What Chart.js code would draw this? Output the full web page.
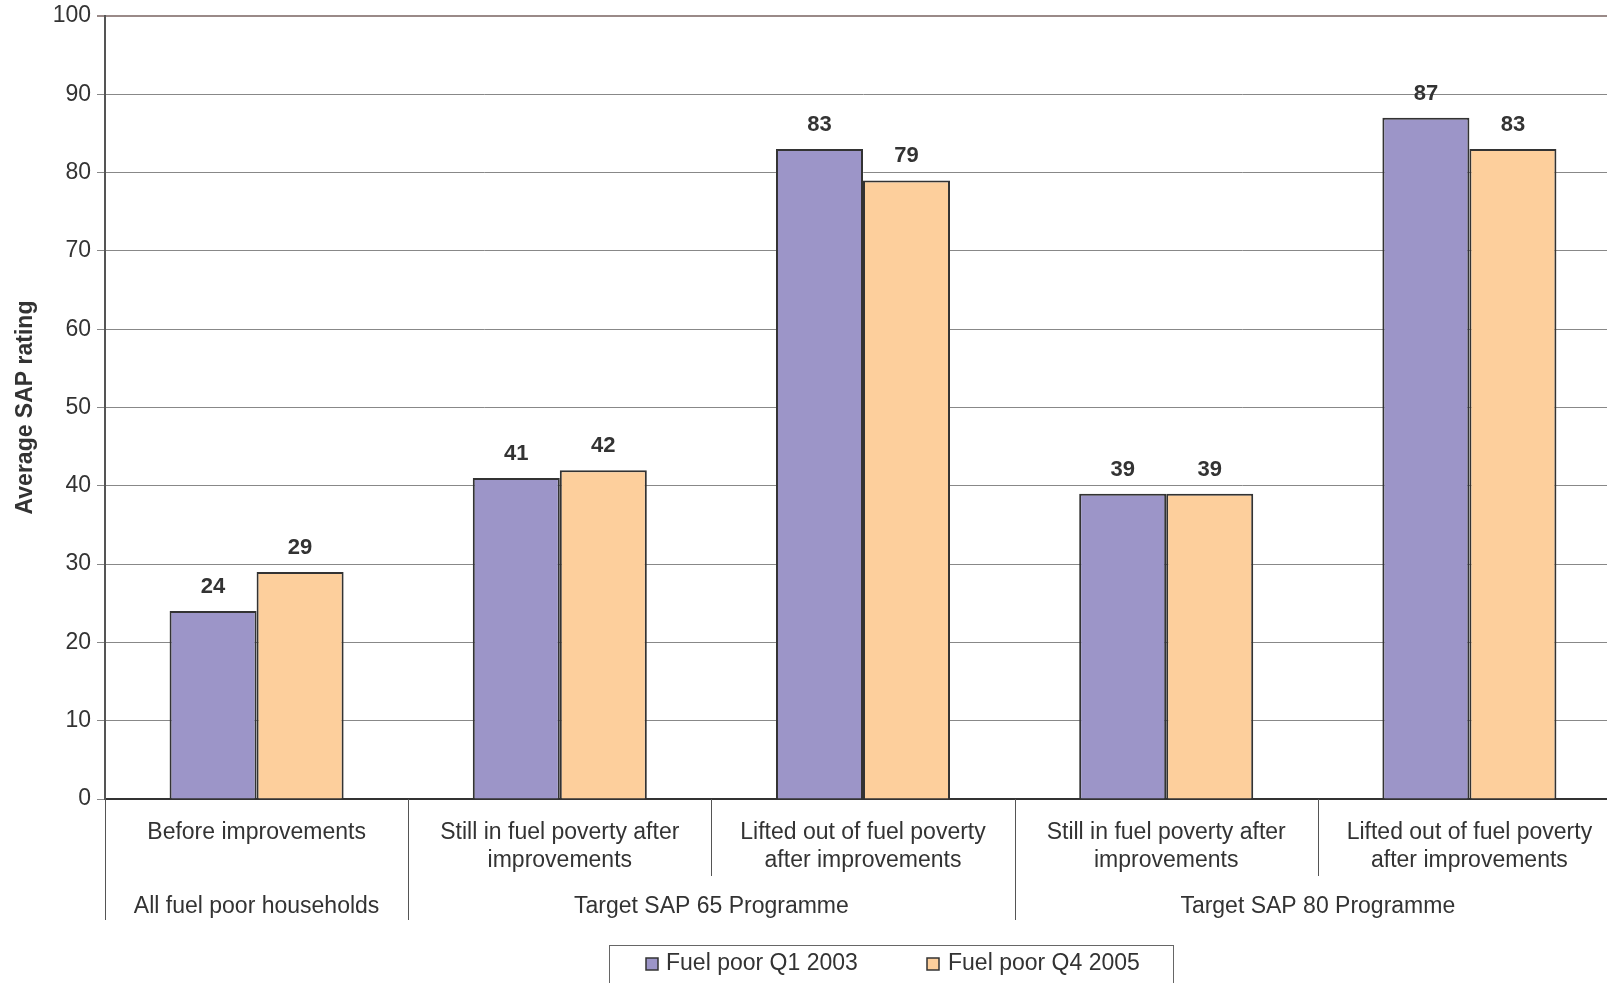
<!DOCTYPE html>
<html>
<head>
<meta charset="utf-8">
<script src="https://cdn.jsdelivr.net/npm/chart.js@4/dist/chart.umd.min.js"></script>
<style>
  html, body { margin: 0; padding: 0; background: #fff; overflow: hidden; }
  #wrap { position: absolute; left: 0; top: 0; width: 1621px; height: 983px; }
</style>
</head>
<body>
<div id="wrap"><canvas id="sapChart"></canvas></div>
<script>
// categories (lower level of the x axis) and their groups (upper level)
var categoryLabels = [
	['Before improvements'],
	['Still in fuel poverty after', 'improvements'],
	['Lifted out of fuel poverty', 'after improvements'],
	['Still in fuel poverty after', 'improvements'],
	['Lifted out of fuel poverty', 'after improvements']
];
var groupNames = ['All fuel poor households', 'Target SAP 65 Programme', 'Target SAP 80 Programme'];
var groupSpans = [1, 2, 2];

// series
var seriesNames = ['Fuel poor Q1 2003', 'Fuel poor Q4 2005'];
var q1_2003 = [24, 41, 83, 39, 87];
var q4_2005 = [29, 42, 79, 39, 83];

var yTicks = [0, 10, 20, 30, 40, 50, 60, 70, 80, 90, 100];

var purple = '#9c95c8';
var orange = '#fdcf9c';
var textCol = '#333333';
var fontFam = '"Liberation Sans", Arial, Helvetica, sans-serif';

// value labels above the bars
var valueLabels = {
	id: 'valueLabels',
	afterDatasetsDraw(chart) {
		var ctx = chart.ctx;
		ctx.save();
		ctx.font = 'bold 22px ' + fontFam;
		ctx.fillStyle = textCol;
		ctx.textAlign = 'center';
		ctx.textBaseline = 'middle';
		chart.data.datasets.forEach(function(ds, di) {
			var meta = chart.getDatasetMeta(di);
			meta.data.forEach(function(bar, i) {
				ctx.fillText(ds.data[i], bar.x, bar.y - 24);
			});
		});
		ctx.restore();
	}
};

// separators, group labels and boxed legend below the plot
var lowerAxis = {
	id: 'lowerAxis',
	afterDraw(chart) {
		var ctx = chart.ctx;
		var area = chart.chartArea;
		var n = categoryLabels.length;
		var w = (area.right - area.left) / n;
		ctx.save();
		ctx.strokeStyle = '#555';
		ctx.lineWidth = 1;
		// separators between categories
		var groupEdges = [0];
		var acc = 0;
		groupSpans.forEach(function(s) { acc += s; groupEdges.push(acc); });
		for (var i = 0; i <= n; i++) {
			var x = Math.round(area.left + i * w) + 0.5;
			var isGroup = groupEdges.indexOf(i) >= 0;
			ctx.beginPath();
			ctx.moveTo(x, area.bottom);
			ctx.lineTo(x, area.bottom + (isGroup ? 121 : 77));
			ctx.stroke();
		}
		// group labels
		ctx.font = '23px ' + fontFam;
		ctx.fillStyle = textCol;
		ctx.textAlign = 'center';
		ctx.textBaseline = 'middle';
		for (var g = 0; g < groupNames.length; g++) {
			var cx = area.left + (groupEdges[g] + groupEdges[g + 1]) / 2 * w;
			ctx.fillText(groupNames[g], cx, area.bottom + 108);
		}
		// legend box
		ctx.strokeStyle = '#666';
		ctx.strokeRect(609.5, 945.5, 564, 60);
		var items = [[646, 666], [927, 948]];
		chart.data.datasets.forEach(function(ds, di) {
			ctx.fillStyle = ds.backgroundColor;
			ctx.fillRect(items[di][0], 958, 12, 12);
			ctx.strokeStyle = '#333';
			ctx.lineWidth = 1.5;
			ctx.strokeRect(items[di][0], 958, 12, 12);
			ctx.fillStyle = textCol;
			ctx.textAlign = 'left';
			ctx.fillText(ds.label, items[di][1], 964);
		});
		ctx.restore();
	}
};

var ctx = document.getElementById('sapChart');
var myChart = new Chart(ctx, {
	type: 'bar',
	data: {
		labels: categoryLabels,
		datasets: [{
			label: seriesNames[0],
			data: q1_2003,
			backgroundColor: purple,
			borderColor: '#333',
			borderWidth: 2,
			borderSkipped: 'bottom'
		}, {
			label: seriesNames[1],
			data: q4_2005,
			backgroundColor: orange,
			borderColor: '#333',
			borderWidth: 2,
			borderSkipped: 'bottom'
		}]
	},
	options: {
		responsive: true,
		maintainAspectRatio: false,
		animation: false,
		devicePixelRatio: 1,
		layout: { padding: { top: 16, right: 0, left: 0, bottom: 0 } },
		datasets: { bar: { categoryPercentage: 0.574, barPercentage: 1 } },
		plugins: {
			legend: { display: false },
			tooltip: { enabled: false }
		},
		scales: {
			x: {
				afterFit: function(scale) { scale.height = 184; },
				grid: { display: false, drawTicks: false },
				border: { display: true, color: '#333', width: 2 },
				ticks: {
					color: textCol,
					font: { family: fontFam, size: 23, lineHeight: 1.25 },
					padding: 19,
					maxRotation: 0,
					autoSkip: false
				}
			},
			y: {
				min: 0,
				max: 100,
				afterFit: function(scale) {
					scale.width = 105;
					scale.paddingTop = 0;
					scale.paddingBottom = 0;
				},
				afterBuildTicks: function(scale) {
					scale.ticks = yTicks.map(function(v) { return { value: v }; });
				},
				grid: {
					color: function(c) { return c.tick.value === 100 ? '#9a8a88' : '#888'; },
					lineWidth: function(c) { return c.tick.value === 100 ? 2 : 1; },
					tickLength: 8
				},
				border: { display: true, color: '#555', width: 2 },
				ticks: {
					color: textCol,
					font: { family: fontFam, size: 23 },
					padding: 6
				},
				title: {
					display: true,
					text: 'Average SAP rating',
					color: textCol,
					font: { family: fontFam, size: 23, weight: 'bold' },
					padding: { top: 12, bottom: 0 }
				}
			}
		}
	},
	plugins: [valueLabels, lowerAxis]
});
</script>
</body>
</html>
